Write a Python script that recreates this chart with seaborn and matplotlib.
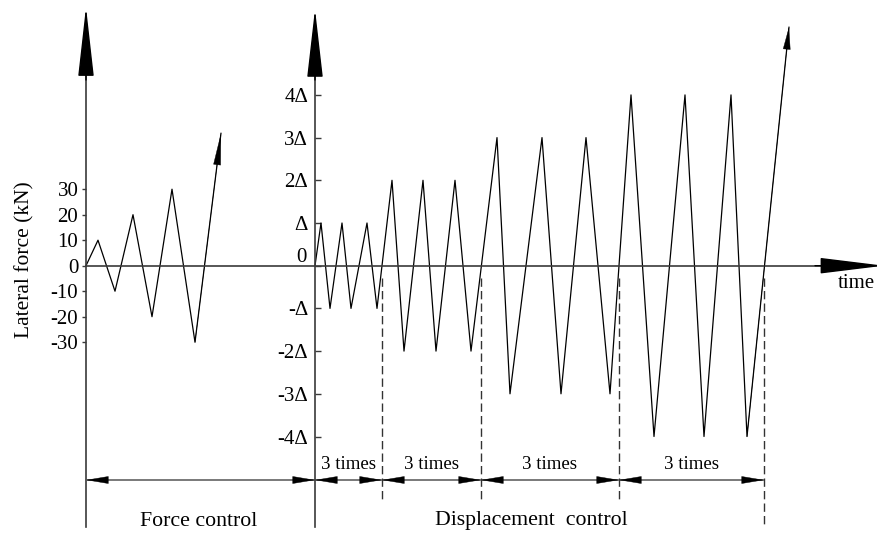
import matplotlib
matplotlib.use("Agg")
import matplotlib.pyplot as plt
import seaborn as sns

# ---------------- data ----------------
# force-controlled stage: time (arbitrary units) and lateral force (kN)
force_time = [0, 12, 29, 47, 66, 86, 109, 135]
force_kN = [0, 10, -10, 20, -20, 30, -30, 52]
force_ticks = [30, 20, 10, 0, -10, -20, -30]
force_ticklabels = ["30", "20", "10", "0", "-10", "-20", "-30"]

# displacement-controlled stage: time (arbitrary units) and multiples of Delta
disp_time = [0, 6, 15, 27, 36, 52, 62, 77, 89, 108, 121, 140, 156,
             182, 195, 227, 246, 271, 295, 316, 339, 370, 389, 416, 432, 474]
disp_level = [0, 1, -1, 1, -1, 1, -1, 2, -2, 2, -2, 2, -2,
              3, -3, 3, -3, 3, -3, 4, -4, 4, -4, 4, -4, 5.59]
disp_ticks = [4, 3, 2, 1, 0, -1, -2, -3, -4]
disp_ticklabels = ["4Δ", "3Δ", "2Δ", "Δ", "", "-Δ", "-2Δ", "-3Δ", "-4Δ"]
stage_bounds = [0, 67, 166, 304, 449]
stage_labels = ["3 times", "3 times", "3 times", "3 times"]

# ---------------- style ----------------
sns.set_theme(style="white")
plt.rcParams["font.family"] = ["Liberation Serif", "DejaVu Serif"]

W, H, DPI = 877, 533, 100
fig = plt.figure(figsize=(W / DPI, H / DPI), dpi=DPI)
ax_f = fig.add_axes([0, 0, 1, 1])
ax_d = fig.add_axes([0, 0, 1, 1])

# layout constants (pixels)
X0F, X0D, Y0 = 86, 315, 265.7
KN, DL = 2.55, 42.7
def fx(px): return px - X0F
def fy(py): return (Y0 - py) / KN
def dx(px): return px - X0D
def dy(py): return (Y0 - py) / DL

AX_C = "#3a3a3a"
LINE_C = "black"

for ax in (ax_f, ax_d):
    ax.set_facecolor("none")
    for s in ax.spines.values():
        s.set_visible(False)
    ax.grid(False)

# zig-zag loading paths
sns.lineplot(x=force_time, y=force_kN, ax=ax_f, color=LINE_C, lw=0.9,
             sort=False, estimator=None, legend=False)
sns.lineplot(x=disp_time, y=disp_level, ax=ax_d, color=LINE_C, lw=0.9,
             sort=False, estimator=None, legend=False)

ax_f.set_xlim(-X0F, W - X0F)
ax_f.set_ylim(-(H - Y0) / KN, Y0 / KN)
ax_d.set_xlim(-X0D, W - X0D)
ax_d.set_ylim(-(H - Y0) / DL, Y0 / DL)
for ax in (ax_f, ax_d):
    ax.set_xticks([])
    ax.set_xlabel("")

# vertical axes as spines
sp = ax_f.spines["left"]
sp.set_visible(True)
sp.set_position(("data", 0))
sp.set_bounds(fy(527), fy(70))
sp.set_color(AX_C)
sp.set_linewidth(1.2)
ax_f.set_yticks(force_ticks)
ax_f.set_yticklabels(force_ticklabels)
ax_f.tick_params(axis="y", left=True, direction="out", length=3, width=1,
                 color=AX_C, pad=2.5, labelsize=15, labelcolor="black")

sp = ax_d.spines["left"]
sp.set_visible(True)
sp.set_position(("data", 0))
sp.set_bounds(dy(527), dy(70))
sp.set_color(AX_C)
sp.set_linewidth(1.2)
ax_d.set_yticks(disp_ticks)
ax_d.set_yticklabels(disp_ticklabels)
ax_d.tick_params(axis="y", left=True, direction="in", length=4, width=1,
                 color=AX_C, pad=5, labelsize=15, labelcolor="black")

# horizontal time axis
sp = ax_d.spines["bottom"]
sp.set_visible(True)
sp.set_position(("data", 0))
sp.set_bounds(dx(X0F), dx(830))
sp.set_color(AX_C)
sp.set_linewidth(1.2)

ax_f.set_ylabel("Lateral force (kN)", fontsize=15.5, color="black")
ax_f.yaxis.set_label_coords(34 / W, 1 - 260 / H)


def head(ax, tip, base, length_px, half_px, lw=0.3, color="black"):
    ax.annotate("", xy=tip, xytext=base, annotation_clip=False,
                arrowprops=dict(
                    arrowstyle=f"-|>,head_length={length_px * 0.72},head_width={half_px * 0.72}",
                    mutation_scale=1, shrinkA=0, shrinkB=0, color=color, lw=lw))


# big axis arrows
head(ax_f, (0, fy(7)), (0, fy(80)), 62, 7, lw=1.0)
head(ax_d, (0, dy(9)), (0, dy(80)), 61, 7, lw=1.0)
head(ax_d, (dx(884), 0), (dx(815), 0), 57, 7, lw=1.0)

# arrow heads at the end of both loading paths
head(ax_f, (force_time[-1], force_kN[-1]), (force_time[-2], force_kN[-2]), 30, 3.5)
head(ax_d, (disp_time[-1], disp_level[-1]), (disp_time[-2], disp_level[-2]), 21, 3.5)

# dimension line with arrows
dim_y = dy(480)
ax_d.plot([dx(X0F), stage_bounds[-1]], [dim_y, dim_y], color="#555555", lw=1.1)
head(ax_d, (dx(X0F), dim_y), (dx(X0F) + 22, dim_y), 21, 3.5)
head(ax_d, (0, dim_y), (-22, dim_y), 21, 3.5)
for b in stage_bounds[:-1]:
    head(ax_d, (b, dim_y), (b + 22, dim_y), 21, 3.5)
for b in stage_bounds[1:]:
    head(ax_d, (b, dim_y), (b - 22, dim_y), 21, 3.5)

# dashed stage separators
for i, b in enumerate(stage_bounds[1:]):
    bottom = dy(527) if i == len(stage_bounds) - 2 else dy(500)
    ax_d.plot([b, b], [dy(278), bottom], color="#333333", lw=1.0,
              ls=(0, (6, 3)))

# texts
for lab, a, b in zip(stage_labels, stage_bounds[:-1], stage_bounds[1:]):
    ax_d.text((a + b) / 2, dy(469), lab, fontsize=13.6, ha="center",
              va="baseline", color="black")
ax_d.text(dx(531.5), dy(525), "Displacement  control", fontsize=15.7,
          ha="center", va="baseline", color="black")
ax_f.text(fx(198.3), fy(526), "Force control", fontsize=15.7,
          ha="center", va="baseline", color="black")
ax_d.text(dx(307), dy(262), "0", fontsize=15, ha="right", va="baseline",
          color="black")
ax_d.text(dx(838), dy(288), "time", fontsize=15, ha="left", va="baseline",
          color="black")

fig.savefig("out.png", dpi=DPI)
